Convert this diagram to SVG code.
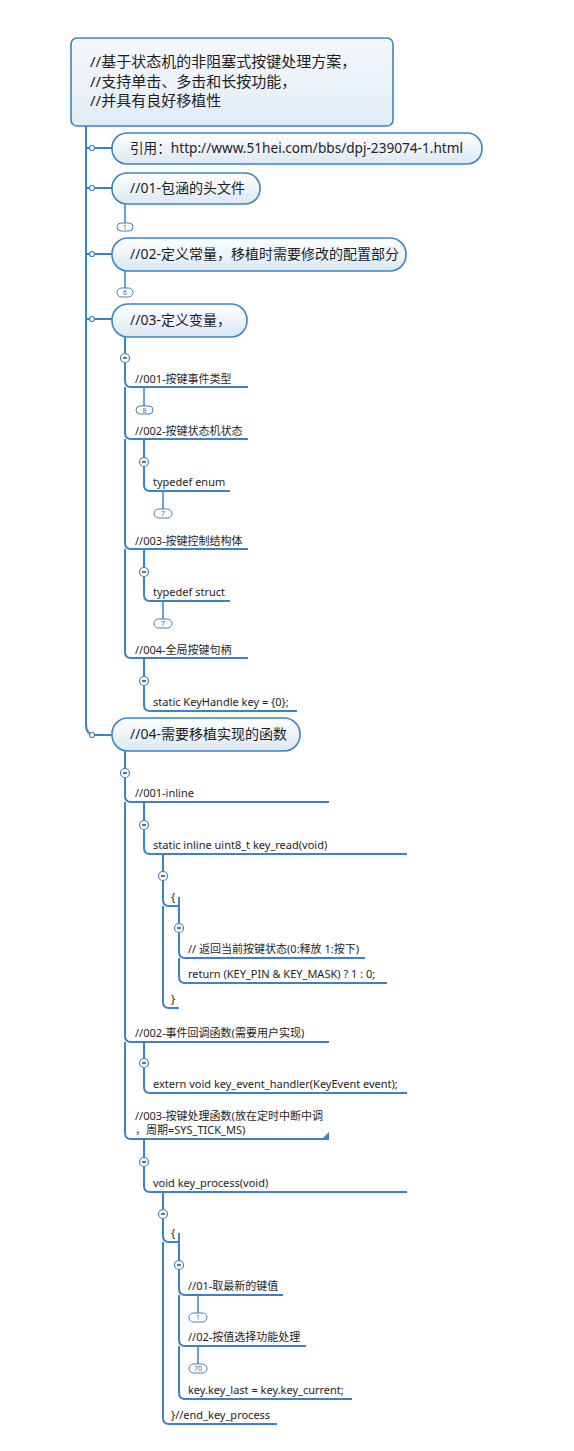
<svg xmlns="http://www.w3.org/2000/svg" width="574" height="1451" viewBox="0 0 574 1451">
<defs>
<linearGradient id="g" x1="0" y1="0" x2="0" y2="1">
<stop offset="0" stop-color="#ffffff"/>
<stop offset="1" stop-color="#dbe8f5"/>
</linearGradient>
<linearGradient id="gr" x1="0" y1="0" x2="0" y2="1">
<stop offset="0" stop-color="#f4f8fc"/>
<stop offset="1" stop-color="#e2ecf7"/>
</linearGradient>
<clipPath id="clip3"><rect x="130" y="1100" width="198" height="40"/></clipPath>
</defs>
<style>
text{font-family:"Noto Sans","Noto Sans CJK SC",sans-serif;fill:#1e1e1e}
.ln{fill:none;stroke:#3a84c6;stroke-width:2}
.thin{fill:none;stroke:#3a84c6;stroke-width:1.5}
.node{fill:url(#g);stroke:#3a84c6;stroke-width:1.6}
.t1{font-size:14px}
.t0{font-size:15px}
.t2{font-size:11px}
.dot{fill:#fff;stroke:#3a84c6;stroke-width:1.2}
.badge{fill:#fff;stroke:#3a84c6;stroke-width:1}
.bt{font-size:7px;fill:#666;text-anchor:middle}
.mc{fill:#fff;stroke:#3a84c6;stroke-width:1.2}
.mm{stroke:#222;stroke-width:1.3}
</style>
<rect width="574" height="1451" fill="#ffffff"/>
<g id="connectors">
<path class="ln" d="M86 126 V725 Q86 735 96 735 H112"/>
<path class="ln" d="M86 148 H112 M86 188 H112 M86 254 H112 M86 319 H112"/>
<path class="thin" d="M125 204 V223 M125 271 V288"/>
<path class="ln" d="M125 337 V381 Q125 387 131 387 H248 M125 387 V433 Q125 439 131 439 H248 M125 439 V543 Q125 549 131 549 H248 M125 549 V652 Q125 658 131 658 H248"/>
<path class="thin" d="M144 387 V406 M163 491 V509 M163 601 V619"/>
<path class="ln" d="M144 439 V485 Q144 491 150 491 H230 M144 549 V595 Q144 601 150 601 H230 M144 658 V705 Q144 711 150 711 H297"/>
<path class="ln" d="M125 751 V796 Q125 802 131 802 H329 M125 802 V1036 Q125 1042 131 1042 H329 M125 1042 V1133 Q125 1139 131 1139 H329"/>
<path class="ln" d="M144 802 V848 Q144 854 150 854 H407 M163 854 V900 Q163 906 169 906 H179 M163 906 V1002 Q163 1008 169 1008 H179 M179 897 V952 Q179 958 185 958 H365 M179 958 V977 Q179 983 185 983 H387"/>
<path class="ln" d="M144 1042 V1087 Q144 1093 150 1093 H407 M144 1139 V1186 Q144 1192 150 1192 H407 M163 1192 V1236 Q163 1242 169 1242 H179 M163 1242 V1418 Q163 1424 169 1424 H277 M179 1233 V1289 Q179 1295 185 1295 H283 M179 1295 V1340 Q179 1346 185 1346 H306 M179 1346 V1393 Q179 1399 185 1399 H352"/>
<path class="thin" d="M198 1295 V1313 M198 1346 V1364"/>
<polygon points="322,1139 329,1132 329,1139" fill="#3a84c6"/>
<circle class="dot" cx="92" cy="148" r="2.5"/>
<circle class="dot" cx="92" cy="188" r="2.5"/>
<circle class="dot" cx="92" cy="254" r="2.5"/>
<circle class="dot" cx="92" cy="319" r="2.5"/>
<circle class="dot" cx="92" cy="735" r="2.5"/>
</g>
<g id="root">
<rect x="71" y="38" width="322" height="88" rx="6" fill="url(#gr)" stroke="#3a84c6" stroke-width="1.6"/>
<text class="t0" x="90" y="67">//基于状态机的非阻塞式按键处理方案，</text>
<text class="t0" x="90" y="87">//支持单击、多击和长按功能，</text>
<text class="t0" x="90" y="106">//并具有良好移植性</text>
</g>
<g id="n-link">
<rect class="node" x="112" y="133" width="370" height="31" rx="15"/>
<text class="t1" x="130" y="153" textLength="333" lengthAdjust="spacingAndGlyphs">引用：http://www.51hei.com/bbs/dpj-239074-1.html</text>
</g>
<g id="n-01">
<rect class="node" x="112" y="173" width="148" height="31" rx="15"/>
<text class="t1" x="130" y="193">//01-包涵的头文件</text>
<rect class="badge" x="117" y="223" width="16" height="8" rx="4"/>
<text class="bt" x="125" y="230">1</text>
</g>
<g id="n-02">
<rect class="node" x="112" y="238" width="294" height="33" rx="16"/>
<text class="t1" x="130" y="259">//02-定义常量，移植时需要修改的配置部分</text>
<rect class="badge" x="117" y="288" width="16" height="9" rx="4.5"/>
<text class="bt" x="125" y="295">6</text>
</g>
<g id="n-03">
<rect class="node" x="112" y="304" width="135" height="33" rx="16"/>
<text class="t1" x="130" y="325">//03-定义变量，</text>
</g>
<g id="n-03-1">
<text class="t2" x="135" y="383">//001-按键事件类型</text>
<rect class="badge" x="136" y="406" width="17" height="8" rx="4"/>
<text class="bt" x="144.5" y="413">8</text>
</g>
<g id="n-03-2">
<text class="t2" x="135" y="435">//002-按键状态机状态</text>
</g>
<g id="n-03-2-1">
<text class="t2" x="153" y="486">typedef enum</text>
<rect class="badge" x="154" y="509" width="18" height="9" rx="4.5"/>
<text class="bt" x="163" y="516">7</text>
</g>
<g id="n-03-3">
<text class="t2" x="135" y="545">//003-按键控制结构体</text>
</g>
<g id="n-03-3-1">
<text class="t2" x="153" y="596">typedef struct</text>
<rect class="badge" x="154" y="619" width="18" height="9" rx="4.5"/>
<text class="bt" x="163" y="626">7</text>
</g>
<g id="n-03-4">
<text class="t2" x="135" y="654">//004-全局按键句柄</text>
</g>
<g id="n-03-4-1">
<text class="t2" x="153" y="706">static KeyHandle key = {0};</text>
</g>
<g id="n-04">
<rect class="node" x="112" y="718" width="188" height="33" rx="16"/>
<text class="t1" x="130" y="739">//04-需要移植实现的函数</text>
</g>
<g id="n-04-1">
<text class="t2" x="135" y="797">//001-inline</text>
</g>
<g id="n-04-1-1">
<text class="t2" x="153" y="849">static inline uint8_t key_read(void)</text>
</g>
<g id="n-04-1-1-1">
<text class="t2" x="171" y="901">{</text>
</g>
<g id="n-04-1-1-1-1">
<text class="t2" x="188" y="953">// 返回当前按键状态(0:释放 1:按下)</text>
</g>
<g id="n-04-1-1-1-2">
<text class="t2" x="188" y="978">return (KEY_PIN &amp; KEY_MASK) ? 1 : 0;</text>
</g>
<g id="n-04-1-1-2">
<text class="t2" x="171" y="1003">}</text>
</g>
<g id="n-04-2">
<text class="t2" x="135" y="1037">//002-事件回调函数(需要用户实现)</text>
</g>
<g id="n-04-2-1">
<text class="t2" x="153" y="1088">extern void key_event_handler(KeyEvent event);</text>
</g>
<g id="n-04-3">
<g clip-path="url(#clip3)">
<text class="t2" x="135" y="1120">//003-按键处理函数(放在定时中断中调</text>
</g>
<text class="t2" x="135" y="1134">，周期=SYS_TICK_MS)</text>
</g>
<g id="n-04-3-1">
<text class="t2" x="153" y="1187">void key_process(void)</text>
</g>
<g id="n-04-3-1-1">
<text class="t2" x="171" y="1237">{</text>
</g>
<g id="n-04-3-1-1-1">
<text class="t2" x="188" y="1290">//01-取最新的键值</text>
<rect class="badge" x="189" y="1313" width="18" height="9" rx="4.5"/>
<text class="bt" x="198" y="1320">1</text>
</g>
<g id="n-04-3-1-1-2">
<text class="t2" x="188" y="1341">//02-按值选择功能处理</text>
<rect class="badge" x="189" y="1364" width="18" height="9" rx="4.5"/>
<text class="bt" x="198" y="1371">70</text>
</g>
<g id="n-04-3-1-1-3">
<text class="t2" x="188" y="1394">key.key_last = key.key_current;</text>
</g>
<g id="n-04-3-1-2">
<text class="t2" x="171" y="1419">}//end_key_process</text>
</g>
<g id="collapse-buttons">
<g><circle class="mc" cx="125" cy="358" r="4.5"/><path class="mm" d="M123 358 H127"/></g>
<g><circle class="mc" cx="144" cy="462" r="4.5"/><path class="mm" d="M142 462 H146"/></g>
<g><circle class="mc" cx="144" cy="572" r="4.5"/><path class="mm" d="M142 572 H146"/></g>
<g><circle class="mc" cx="144" cy="681" r="4.5"/><path class="mm" d="M142 681 H146"/></g>
<g><circle class="mc" cx="125" cy="773" r="4.5"/><path class="mm" d="M123 773 H127"/></g>
<g><circle class="mc" cx="144" cy="825" r="4.5"/><path class="mm" d="M142 825 H146"/></g>
<g><circle class="mc" cx="163" cy="876" r="4.5"/><path class="mm" d="M161 876 H165"/></g>
<g><circle class="mc" cx="179" cy="928" r="4.5"/><path class="mm" d="M177 928 H181"/></g>
<g><circle class="mc" cx="144" cy="1063" r="4.5"/><path class="mm" d="M142 1063 H146"/></g>
<g><circle class="mc" cx="144" cy="1162" r="4.5"/><path class="mm" d="M142 1162 H146"/></g>
<g><circle class="mc" cx="163" cy="1214" r="4.5"/><path class="mm" d="M161 1214 H165"/></g>
<g><circle class="mc" cx="179" cy="1265" r="4.5"/><path class="mm" d="M177 1265 H181"/></g>
</g>
</svg>
